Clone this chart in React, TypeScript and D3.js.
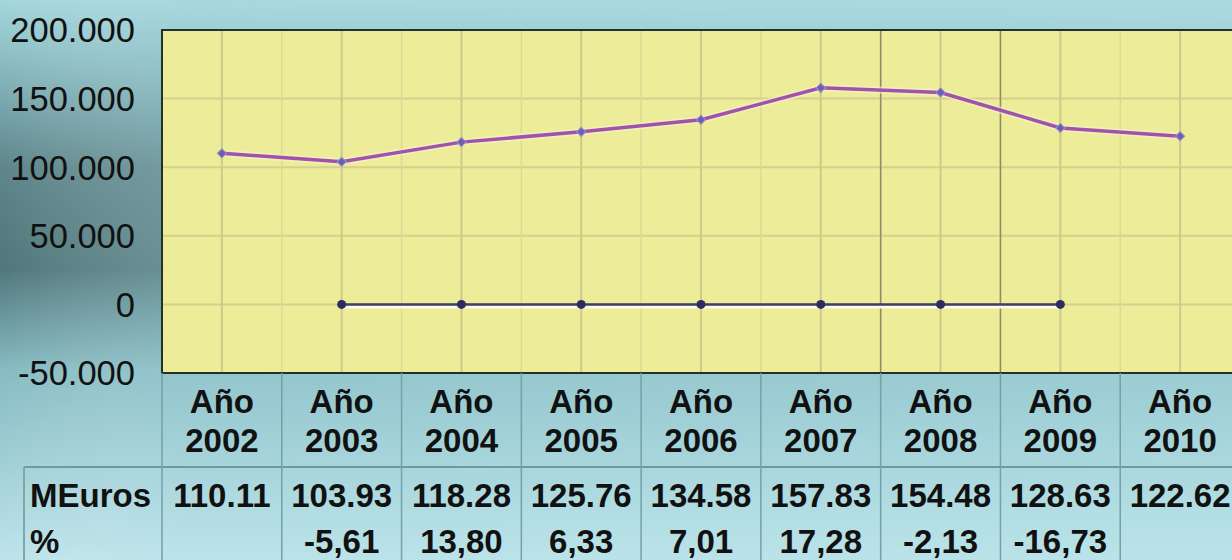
import React from 'react';
import * as d3 from 'd3';

const years = ['2002', '2003', '2004', '2005', '2006', '2007', '2008', '2009', '2010'];
const mEuros = [110.11, 103.93, 118.28, 125.76, 134.58, 157.83, 154.48, 128.63, 122.62];
// % change vs previous year (none for 2002 and 2010)
const pctChange: (number | null)[] = [null, -5.61, 13.8, 6.33, 7.01, 17.28, -2.13, -16.73, null];
const yTicks = [-50000, 0, 50000, 100000, 150000, 200000];

const W = 1232;
const H = 560;
const plot = { left: 162, right: 1240, top: 30, bottom: 373 };

const es = d3.formatLocale({ decimal: ',', thousands: '.', grouping: [3], currency: ['', ' €'], minus: '-' });
const fmtTick = es.format(',.0f');
const fmtPct = es.format('.2f');

const font = '"Liberation Sans", Arial, sans-serif';

const App = () => {
  const x = d3.scaleBand().domain(years).range([plot.left, plot.right]).padding(0);
  const y = d3.scaleLinear().domain([-50000, 200000]).range([plot.bottom, plot.top]);
  const cx = (yr: string) => (x(yr) ?? 0) + x.bandwidth() / 2;

  const mainPts = years.map((yr, i) => ({ yr, v: mEuros[i] * 1000 }));
  const pctPts = years
    .map((yr, i) => ({ yr, v: pctChange[i] }))
    .filter(d => d.v !== null) as { yr: string; v: number }[];

  const line = d3.line<{ yr: string; v: number }>().x(d => cx(d.yr)).y(d => y(d.v));
  const marker = d3.symbol().type(d3.symbolSquare).size(42)();

  // band edges, used by grid and table
  const edges = years.map(yr => x(yr) ?? 0);

  return (
    <svg width={W} height={H} style={{ position: 'fixed', left: 0, top: 0 }} fontFamily={font}>
      <defs>
        <linearGradient id="bg" x1="0" y1="0" x2="0" y2="1">
          <stop offset="0" stopColor="#a3d6dc" />
          <stop offset="0.1" stopColor="#8cbfc5" />
          <stop offset="0.3" stopColor="#5d858a" />
          <stop offset="0.48" stopColor="#50777b" />
          <stop offset="0.66" stopColor="#86bbc2" />
          <stop offset="1" stopColor="#bde4ea" />
        </linearGradient>
        <linearGradient id="bgR" x1="0" y1="0" x2="1" y2="0">
          <stop offset="0" stopColor="#ffffff" stopOpacity="0" />
          <stop offset="0.15" stopColor="#b5e2e8" stopOpacity="0.25" />
          <stop offset="1" stopColor="#b5e2e8" stopOpacity="0.45" />
        </linearGradient>
        <clipPath id="clip">
          <rect x={plot.left} y={plot.top} width={plot.right - plot.left} height={plot.bottom - plot.top} />
        </clipPath>
      </defs>

      <rect width={W} height={H} fill="url(#bg)" />
      <rect width={W} height={H} fill="url(#bgR)" />

      {/* plot area */}
      <rect x={plot.left} y={plot.top} width={plot.right - plot.left} height={plot.bottom - plot.top} fill="#ecec99" />

      <g clipPath="url(#clip)">
        {yTicks.map(t => (
          <line key={t} x1={plot.left} x2={plot.right} y1={y(t)} y2={y(t)} stroke="#d6d08e" strokeWidth={2} />
        ))}
        {edges.map((e, i) => (
          <line key={'e' + i} x1={e} x2={e} y1={plot.top} y2={plot.bottom} stroke="#dcd996" strokeWidth={1.5} />
        ))}
        {years.map(yr => (
          <line key={'c' + yr} x1={cx(yr)} x2={cx(yr)} y1={plot.top} y2={plot.bottom} stroke="#cfc98a" strokeWidth={2} />
        ))}
        {['2008', '2009'].map(yr => (
          <line key={'d' + yr} x1={x(yr)} x2={x(yr)} y1={plot.top} y2={plot.bottom} stroke="#8d8c66" strokeWidth={1.5} />
        ))}

        {/* % series */}
        <path d={line(pctPts) ?? ''} fill="none" stroke="#fbfbe0" strokeWidth={4} transform="translate(0,2)" />
        <path d={line(pctPts) ?? ''} fill="none" stroke="#3f3c6c" strokeWidth={2.5} />
        {pctPts.map(d => (
          <circle key={d.yr} cx={cx(d.yr)} cy={y(d.v)} r={4.5} fill="#2e2b62" />
        ))}

        {/* MEuros series */}
        <path d={line(mainPts) ?? ''} fill="none" stroke="#f7f4c8" strokeWidth={7} opacity={0.6} />
        <path d={line(mainPts) ?? ''} fill="none" stroke="#a052ac" strokeWidth={3.5} />
        {mainPts.map(d => (
          <path
            key={d.yr}
            d={marker ?? ''}
            transform={`translate(${cx(d.yr)},${y(d.v)}) rotate(45)`}
            fill="#6c5fb0"
            stroke="#9c90d2"
            strokeWidth={1}
          />
        ))}
      </g>

      {/* plot border */}
      <path
        d={`M${plot.right},${plot.top}H${plot.left}V${plot.bottom}H${plot.right}`}
        fill="none"
        stroke="#26302a"
        strokeWidth={2}
      />

      {/* y axis labels */}
      {yTicks.map(t => (
        <text key={t} x={135} y={y(t)} dy="0.36em" textAnchor="end" fontSize={34.5} fill="#111">
          {fmtTick(t)}
        </text>
      ))}

      {/* table grid */}
      <line x1={24} x2={W} y1={467} y2={467} stroke="#6b9ba1" strokeWidth={2} />
      <line x1={24} x2={24} y1={467} y2={H} stroke="#7aa8ae" strokeWidth={2} />
      {edges.map((e, i) => (
        <line key={'t' + i} x1={e} x2={e} y1={plot.bottom} y2={H} stroke="#72a1a7" strokeWidth={1.5} />
      ))}

      {/* table text */}
      <g fontWeight="bold" fontSize={33} fill="#111" textAnchor="middle">
        {years.map(yr => (
          <g key={yr}>
            <text x={cx(yr)} y={413}>Año</text>
            <text x={cx(yr)} y={452}>{yr}</text>
          </g>
        ))}
        <text x={30} y={507} textAnchor="start">MEuros</text>
        <text x={30} y={553} textAnchor="start">%</text>
        {years.map((yr, i) => (
          <text key={'m' + yr} x={cx(yr)} y={507}>{mEuros[i].toFixed(2)}</text>
        ))}
        {years.map((yr, i) =>
          pctChange[i] === null ? null : (
            <text key={'p' + yr} x={cx(yr)} y={553}>{fmtPct(pctChange[i] as number)}</text>
          )
        )}
      </g>
    </svg>
  );
};

export default App;
